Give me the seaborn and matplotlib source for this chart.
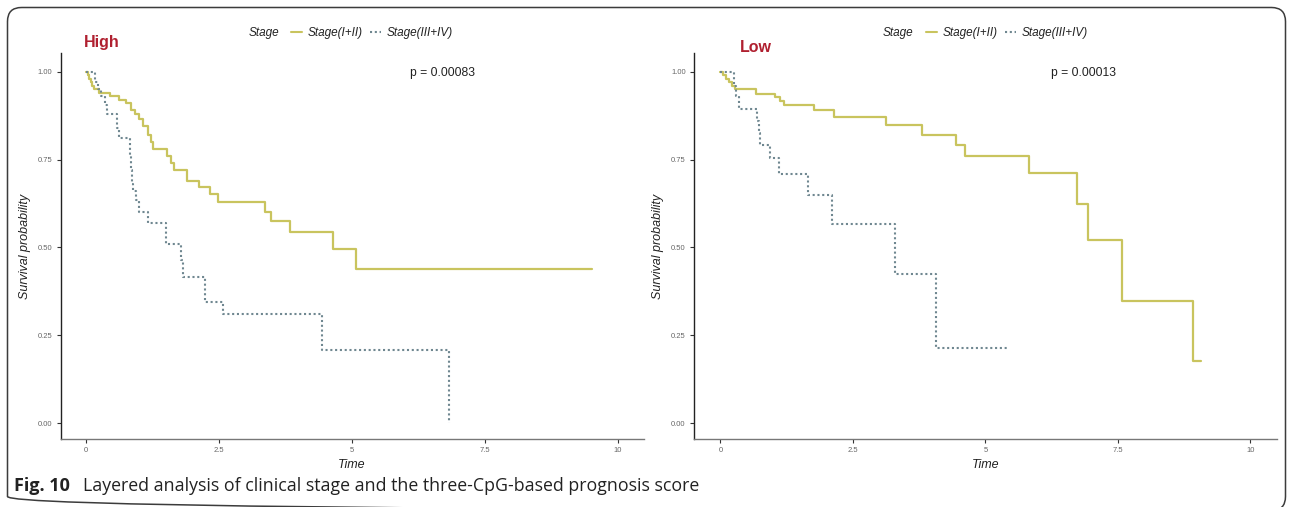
import matplotlib
matplotlib.use("Agg")
import matplotlib.pyplot as plt
from matplotlib.lines import Line2D
from matplotlib.patches import FancyBboxPatch
import numpy as np
import pandas as pd
import seaborn as sns

# ---- Kaplan-Meier step data (time in years, survival probability) ----
high_early_time = [0, 0.03, 0.06, 0.09, 0.12, 0.15, 0.25, 0.45, 0.62, 0.75, 0.85, 0.92,
                   0.99, 1.07, 1.16, 1.22, 1.26, 1.53, 1.60, 1.66, 1.89, 2.12, 2.33,
                   2.48, 3.37, 3.48, 3.84, 4.65, 5.07, 9.51]
high_early_surv = [1.0, 0.99, 0.98, 0.97, 0.96, 0.95, 0.94, 0.93, 0.92, 0.91, 0.89, 0.88,
                   0.865, 0.845, 0.82, 0.80, 0.78, 0.76, 0.74, 0.72, 0.69, 0.673, 0.653,
                   0.63, 0.602, 0.575, 0.543, 0.495, 0.439, 0.439]

high_late_time = [0, 0.17, 0.22, 0.28, 0.35, 0.40, 0.58, 0.62, 0.82, 0.84, 0.86, 0.89,
                  0.94, 0.99, 1.16, 1.51, 1.79, 1.83, 2.24, 2.57, 4.44, 6.82]
high_late_surv = [1.0, 0.97, 0.95, 0.93, 0.905, 0.88, 0.84, 0.81, 0.76, 0.72, 0.68, 0.66,
                  0.635, 0.60, 0.57, 0.51, 0.465, 0.415, 0.345, 0.31, 0.207, 0.0]

low_early_time = [0, 0.05, 0.10, 0.16, 0.22, 0.27, 0.67, 1.03, 1.13, 1.20, 1.77, 2.15,
                  3.13, 3.80, 4.44, 4.61, 5.82, 6.73, 6.94, 7.58, 8.92, 9.06]
low_early_surv = [1.0, 0.99, 0.98, 0.97, 0.96, 0.95, 0.937, 0.927, 0.917, 0.905, 0.89, 0.872,
                  0.848, 0.82, 0.792, 0.76, 0.711, 0.624, 0.52, 0.347, 0.176, 0.176]

low_late_time = [0, 0.26, 0.30, 0.34, 0.69, 0.72, 0.75, 0.94, 1.11, 1.66, 2.10, 3.30,
                 4.07, 5.41]
low_late_surv = [1.0, 0.96, 0.93, 0.895, 0.86, 0.825, 0.79, 0.755, 0.71, 0.65, 0.568, 0.425,
                 0.215, 0.215]

stage_labels = ["Stage(I+II)", "Stage(III+IV)"]
panel_titles = ["High", "Low"]
p_values = ["p = 0.00083", "p = 0.00013"]
x_ticks = [0, 2.5, 5, 7.5, 10]
x_tick_labels = ["0", "2.5", "5", "7.5", "10"]
y_ticks = [0.0, 0.25, 0.50, 0.75, 1.00]
y_tick_labels = ["0.00", "0.25", "0.50", "0.75", "1.00"]
caption_bold = "Fig. 10"
caption_text = "Layered analysis of clinical stage and the three-CpG-based prognosis score"

EARLY_COLOR = "#C9C45E"
LATE_COLOR = "#6F8790"
TITLE_COLOR = "#B02030"
DOTS = (0, (1, 1.3))

sns.set_theme(style="white")
plt.rcParams["font.family"] = ["Liberation Sans", "DejaVu Sans"]

W, H = 1293, 507
fig = plt.figure(figsize=(W / 100, H / 100), dpi=100)

# Page frame + caption drawn in a pixel-space background axes
bg = fig.add_axes([0, 0, 1, 1], zorder=-1)
bg.set_xlim(0, W)
bg.set_ylim(H, 0)
bg.axis("off")
bg.add_patch(FancyBboxPatch((7.5, 7.5), W - 15, 503, boxstyle="round,pad=0,rounding_size=14",
                            fc="none", ec="#3c3c3c", lw=1.1, clip_on=False))
bg.text(14, 486, caption_bold, fontsize=13, fontweight="bold", family="Open Sans",
        va="center", ha="left", color="#222222")
bg.text(83, 486, caption_text, fontsize=12.75, family="Open Sans",
        va="center", ha="left", color="#222222")


def px_rect(x0, x1, y_top, y_bot):
    return [x0 / W, 1 - y_bot / H, (x1 - x0) / W, (y_bot - y_top) / H]


panels = [
    dict(rect=px_rect(60.7, 643.6, 53, 439), xlim=(-0.476, 10.48),
         early=(high_early_time, high_early_surv), late=(high_late_time, high_late_surv),
         title_xy=(84, 42), pval_x=6.09, legend_x=372, stage_x=249),
    dict(rect=px_rect(694, 1277.4, 53, 439), xlim=(-0.50, 10.51),
         early=(low_early_time, low_early_surv), late=(low_late_time, low_late_surv),
         title_xy=(740, 48), pval_x=6.23, legend_x=1007, stage_x=883),
]

for i, pnl in enumerate(panels):
    ax = fig.add_axes(pnl["rect"])
    ax.set_facecolor("none")
    et, es = pnl["early"]
    lt, ls = pnl["late"]
    sns.lineplot(x=et, y=es, ax=ax, color=EARLY_COLOR, drawstyle="steps-post",
                 estimator=None, sort=False, linewidth=1.6)
    sns.lineplot(x=lt, y=ls, ax=ax, color=LATE_COLOR, drawstyle="steps-post",
                 estimator=None, sort=False, linewidth=1.5, linestyle=DOTS)
    ax.set_xlim(*pnl["xlim"])
    ax.set_ylim(-0.045, 1.053)
    ax.set_xticks(x_ticks)
    ax.set_xticklabels(x_tick_labels)
    ax.set_yticks(y_ticks)
    ax.set_yticklabels(y_tick_labels)
    ax.tick_params(axis="both", which="both", length=3, width=0.8, color="#333333",
                   labelsize=5.5, labelcolor="#666666", pad=3, direction="out",
                   bottom=True, left=True)
    for side in ("top", "right"):
        ax.spines[side].set_visible(False)
    ax.spines["left"].set_color("#222222")
    ax.spines["left"].set_linewidth(1.0)
    ax.spines["bottom"].set_color("#777777")
    ax.spines["bottom"].set_linewidth(1.0)
    ax.set_xlabel("Time", fontsize=9, fontstyle="italic", color="#222222", labelpad=3)
    ax.set_ylabel("Survival probability", fontsize=9, fontstyle="italic",
                  color="#222222", labelpad=5)
    ax.grid(False)
    ax.text(pnl["pval_x"], 0.995, p_values[i], fontsize=8.7, color="#222222",
            ha="left", va="center")

    # Panel title
    bg.text(pnl["title_xy"][0], pnl["title_xy"][1], panel_titles[i], fontsize=11.5,
            fontweight="bold", color=TITLE_COLOR, ha="left", va="center")

    # Legend with inline title
    handles = [Line2D([], [], color=EARLY_COLOR, lw=1.5),
               Line2D([], [], color=LATE_COLOR, lw=1.5, linestyle=DOTS)]
    leg = ax.legend(handles, stage_labels, loc="center",
                    bbox_to_anchor=(pnl["legend_x"] / W, 1 - 33 / H),
                    bbox_transform=fig.transFigure, ncol=2, frameon=False,
                    prop=dict(size=8.5, style="italic"), handlelength=0.9,
                    handletextpad=0.5, columnspacing=0.6, borderpad=0)
    for t in leg.get_texts():
        t.set_color("#222222")
    bg.text(pnl["stage_x"], 33, "Stage", fontsize=8.5, fontstyle="italic",
            color="#222222", ha="left", va="center")

fig.savefig("out.png", dpi=100)
